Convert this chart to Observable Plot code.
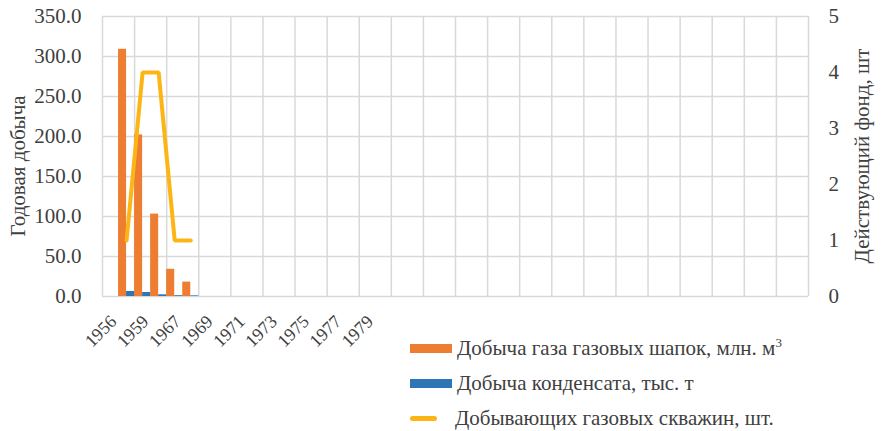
<!DOCTYPE html>
<html>
<head>
<meta charset="utf-8">
<script src="https://cdn.jsdelivr.net/npm/d3@7"></script>
<script src="https://cdn.jsdelivr.net/npm/@observablehq/plot@0.6"></script>
<style>
  body { margin: 0; background: #fff; }
  #wrap { position: relative; width: 885px; height: 431px; font-family: "Liberation Serif", "DejaVu Serif", serif; }
  #legend { position: absolute; left: 410px; top: 331px; color: #404040; font-size: 21px; }
  .row { display: flex; align-items: center; height: 35px; }
  .sw { width: 42px; height: 9px; margin-right: 5px; }
  .ln { width: 27px; height: 5px; border-radius: 3px; margin-right: 18px; }
  sup { font-size: 13px; vertical-align: 8px; line-height: 0; }
  svg text { font-family: "Liberation Serif", "DejaVu Serif", serif; }
</style>
</head>
<body>
<div id="wrap"></div>
<script>
// Category labels (each label spans two half-year slots)
const periodLabels = ["1956","1959","1967","1969","1971","1973","1975","1977","1979","","","","","","","","","","","","",""];
// Slot index of each data point along the x axis
const slot = [1, 2, 3, 4, 5];
const gasCap = [309, 202, 103, 34, 18];        // Добыча газа газовых шапок, млн. м3
const condensate = [6.3, 5.0, 2.1, 1.0, 0.8];   // Добыча конденсата, тыс. т
const wells = [1, 4, 4, 1, 1];                   // Добывающих газовых скважин, шт.

const leftTicks = [0, 50, 100, 150, 200, 250, 300, 350];
const rightTicks = [0, 1, 2, 3, 4, 5];
const yMax = 350, rMax = 5, k = yMax / rMax;

const nSlots = periodLabels.length * 2;
const rows = slot.map((s, i) => ({s, gas: gasCap[i], cond: condensate[i], wells: wells[i]}));
const gridX = d3.range(0, nSlots + 1, 2);
const labelX = periodLabels.map((_, i) => i * 2 + 1);

const grid = "#d9d9d9";
const font = "'Liberation Serif', 'DejaVu Serif', serif";
const chart = Plot.plot({
  width: 885,
  height: 431,
  marginLeft: 102,
  marginRight: 77,
  marginTop: 16,
  marginBottom: 135,
  style: {fontFamily: font, fontSize: "21px", color: "#404040", background: "#fff"},
  x: {domain: [0, nSlots]},
  y: {domain: [0, yMax]},
  marks: [
    Plot.ruleY(leftTicks, {y: d => d, stroke: grid, strokeWidth: 1.5}),
    Plot.ruleX(gridX, {x: d => d, stroke: grid, strokeWidth: 1.5}),
    Plot.rectY(rows, {x1: d => d.s, x2: d => d.s + 0.5, y1: 0, y2: "gas", fill: "#ED7D31"}),
    Plot.rectY(rows, {x1: d => d.s + 0.5, x2: d => d.s + 1, y1: 0, y2: "cond", fill: "#2E75B6"}),
    Plot.line(rows, {x: d => d.s + 0.5, y: d => d.wells * k, stroke: "#FDB515", strokeWidth: 4, strokeLinejoin: "miter"}),
    Plot.axisY(leftTicks, {anchor: "left", tickSize: 0, tickPadding: 21, tickFormat: d => d.toFixed(1), label: null, fontSize: 21}),
    Plot.axisY(rightTicks.map(d => d * k), {anchor: "right", tickSize: 0, tickPadding: 20, tickFormat: d => String(Math.round(d / k)), label: null, fontSize: 21}),
    Plot.axisX(labelX, {tickSize: 0, tickPadding: 22, dx: -5, tickRotate: -45, tickFormat: d => periodLabels[(d - 1) / 2], label: null, fontSize: 18})
  ]
});
document.getElementById("wrap").appendChild(chart);

const svg = d3.select(chart);
svg.append("text")
  .attr("transform", "translate(18,166) rotate(-90)")
  .attr("text-anchor", "middle").attr("dy", "0.35em")
  .attr("fill", "#404040").attr("font-size", 21)
  .text("Годовая добыча");
svg.append("text")
  .attr("transform", "translate(862,156) rotate(-90)")
  .attr("text-anchor", "middle").attr("dy", "0.35em")
  .attr("fill", "#404040").attr("font-size", 21)
  .text("Действующий фонд, шт");

const legend = document.createElement("div");
legend.id = "legend";
legend.innerHTML = `
  <div class="row"><div class="sw" style="background:#ED7D31"></div><span>Добыча газа газовых шапок, млн. м<sup>3</sup></span></div>
  <div class="row"><div class="sw" style="background:#2E75B6"></div><span>Добыча конденсата, тыс. т</span></div>
  <div class="row"><div class="ln" style="background:#FDB515"></div><span>Добывающих газовых скважин, шт.</span></div>`;
document.getElementById("wrap").appendChild(legend);
</script>
</body>
</html>
